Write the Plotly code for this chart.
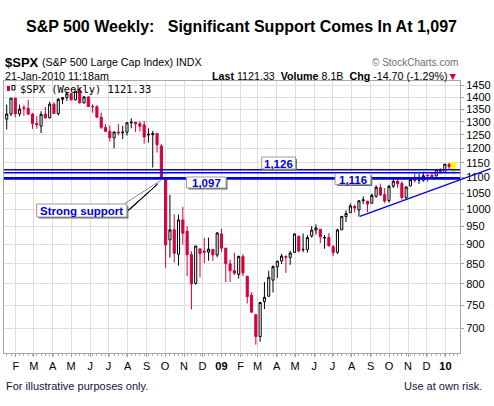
import plotly.graph_objects as go
import pandas as pd

# ---------------- data (weekly S&P 500 candles) ----------------
first_week = "2008-01-21"
opens = [
    1310.4, 1330.7,
    1395.4, 1331.1, 1355.9, 1353.1,
    1330.5, 1293.2, 1283.2, 1330.3, 1315.9,
    1370.2, 1332.2, 1390.3, 1397.8,
    1413.9, 1388.3, 1425.3, 1375.9,
    1400.1, 1360.8, 1360.0, 1317.9, 1278.1,
    1262.9, 1239.5, 1260.5, 1257.8,
    1260.3, 1296.3, 1298.1, 1292.2,
    1287.8, 1249.5, 1250.9, 1255.4, 1209.1,
    1097.6, 912.8, 941.0, 874.3,
    968.7, 936.8, 873.2, 801.2,
    888.6, 882.7, 880.0, 887.2, 872.4,
    929.2, 890.4, 849.6, 832.5,
    823.1, 868.2, 818.6, 773.3,
    729.6, 683.4, 758.8, 771.0, 809.1,
    842.3, 856.9, 868.3, 866.2,
    879.2, 923.0, 886.1, 887.0,
    923.3, 940.1, 942.5, 918.1, 919.9,
    894.3, 879.6, 940.6, 978.6,
    990.2, 1008.9, 998.2, 1026.6, 1025.2,
    1018.7, 1040.1, 1067.1, 1045.0,
    1026.9, 1072.0, 1088.4, 1080.4,
    1036.2, 1072.5, 1094.1, 1091.5, 1091.1,
    1108.1, 1107.8, 1105.0, 1127.5,
    1116.6, 1145.0, 1136.0,
]
highs = [
    1368.6, 1396.0,
    1395.4, 1368.4, 1367.9, 1388.3,
    1335.1, 1321.7, 1341.5, 1359.7, 1380.9,
    1378.0, 1395.9, 1399.9, 1422.7,
    1415.5, 1425.8, 1440.2, 1404.0,
    1404.1, 1370.6, 1366.6, 1335.6, 1290.3,
    1285.7, 1262.3, 1291.2, 1284.4,
    1297.9, 1313.2, 1300.2, 1303.0,
    1303.0, 1274.4, 1265.1, 1255.4, 1216.2,
    1098.5, 1044.3, 985.4, 984.4,
    1007.5, 951.2, 882.3, 896.2,
    888.6, 918.6, 918.9, 887.4, 934.7,
    943.9, 890.4, 860.0, 877.9,
    870.8, 875.0, 818.6, 780.1,
    729.6, 758.3, 804.5, 832.0, 845.6,
    856.6, 875.6, 871.8, 883.0,
    930.2, 923.0, 930.2, 926.0,
    951.0, 956.2, 942.5, 926.0, 931.9,
    898.7, 943.9, 979.8, 996.7,
    1018.0, 1014.1, 1027.6, 1039.5, 1025.2,
    1048.2, 1074.8, 1080.2, 1065.4,
    1076.0, 1096.6, 1101.4, 1087.9,
    1071.5, 1097.8, 1113.7, 1112.4, 1119.1,
    1110.7, 1117.7, 1128.0, 1130.4,
    1145.4, 1149.7, 1150.5,
]
lows = [
    1270.0, 1322.0,
    1316.8, 1321.0, 1324.0, 1325.6,
    1272.6, 1273.4, 1257.0, 1312.8, 1312.3,
    1331.6, 1324.4, 1370.3, 1384.1,
    1386.0, 1386.2, 1373.1, 1373.1,
    1359.9, 1335.7, 1317.2, 1272.0, 1260.7,
    1225.4, 1200.4, 1248.6, 1234.4,
    1247.5, 1274.6, 1261.0, 1262.6,
    1217.2, 1221.9, 1133.5, 1185.5, 1098.1,
    839.8, 865.8, 852.9, 845.3,
    899.7, 818.7, 741.0, 798.5,
    815.7, 851.4, 857.7, 857.1, 866.5,
    880.0, 804.5, 804.5, 821.7,
    812.9, 818.4, 754.3, 734.5,
    666.8, 672.9, 742.0, 771.0, 779.8,
    814.5, 848.9, 826.8, 847.1,
    879.2, 878.9, 879.6, 878.9,
    919.1, 927.4, 903.8, 888.9, 896.4,
    869.3, 875.3, 940.6, 963.0,
    990.2, 990.6, 978.5, 1016.2, 992.0,
    1017.4, 1035.0, 1041.2, 1019.0,
    1020.4, 1066.4, 1066.5, 1029.4,
    1029.4, 1072.5, 1083.8, 1079.4, 1086.3,
    1085.9, 1095.7, 1105.0, 1114.8,
    1116.6, 1127.7, 1118.0,
]
closes = [
    1330.6, 1395.4,
    1331.3, 1350.0, 1353.1, 1330.6,
    1293.4, 1288.1, 1329.5, 1315.2, 1370.4,
    1332.8, 1390.3, 1397.8, 1413.9,
    1388.3, 1425.4, 1375.9, 1400.4,
    1360.7, 1360.0, 1317.9, 1278.4, 1262.9,
    1239.5, 1260.7, 1257.8, 1260.3,
    1296.3, 1298.2, 1292.2, 1282.8,
    1242.3, 1251.7, 1255.1, 1213.3, 1099.2,
    899.2, 940.6, 876.8, 968.8,
    931.0, 873.3, 800.0, 896.2,
    876.1, 879.7, 887.9, 872.8, 931.8,
    890.4, 850.1, 832.0, 825.9,
    868.6, 826.8, 770.1, 735.1,
    683.4, 756.6, 768.5, 815.9, 842.5,
    856.6, 869.6, 866.2, 877.5,
    929.2, 882.9, 887.0, 919.1,
    940.1, 946.2, 921.2, 918.9, 896.4,
    879.1, 940.4, 979.3, 987.5,
    1010.5, 1004.1, 1026.1, 1028.9, 1016.4,
    1042.7, 1068.3, 1044.4, 1025.2,
    1071.5, 1087.7, 1079.6, 1036.2,
    1069.3, 1093.5, 1091.4, 1091.5, 1106.0,
    1106.4, 1102.5, 1126.5, 1115.1,
    1145.0, 1136.0, 1121.3,
]

month_labels = ["F", "M", "A", "M", "J", "J", "A", "S", "O", "N", "D", "<b>09</b>",
                "F", "M", "A", "M", "J", "J", "A", "S", "O", "N", "D", "<b>10</b>"]
y_ticks = [700, 750, 800, 850, 900, 950, 1000, 1050, 1100, 1150,
           1200, 1250, 1300, 1350, 1400, 1450]
support_levels = [1126, 1116, 1097]
support_labels = ["1,126", "1,116", "1,097"]

# ---------------- derived positions ----------------
week_starts = pd.date_range(first_week, periods=len(closes), freq="7D")
bar_x = week_starts - pd.Timedelta(days=4)   # StockCharts draws weekly bars just before the week start
month_ticks = pd.date_range("2008-02-01", "2010-01-01", freq="MS")
x_range = [pd.Timestamp("2008-01-12 14:00"), pd.Timestamp("2010-01-24 17:00")]
y_range = [2.81324, 3.16696]

RED = "#d4003b"
BLUE = "#0000e0"
W, H = 494, 406
L, R, T, B = 3, 463, 81, 353


def px(x):
    return (x - L) / (R - L)


def py(y):
    return (B - y) / (B - T)


fig = go.Figure()

# yellow highlight behind latest bar
hx0 = bar_x[-1] - pd.Timedelta(days=4.5)
hx1 = bar_x[-1] + pd.Timedelta(days=4.5)
hy0, hy1 = lows[-1] * 1.001, highs[-1] * 1.002
fig.add_trace(go.Scatter(x=[hx0, hx1, hx1, hx0, hx0], y=[hy0, hy0, hy1, hy1, hy0],
                         fill="toself", fillcolor="#ffff00", line=dict(width=0),
                         mode="lines", hoverinfo="skip"))

fig.add_trace(go.Candlestick(
    x=bar_x, open=opens, high=highs, low=lows, close=closes,
    increasing=dict(line=dict(color="black", width=1), fillcolor="white"),
    decreasing=dict(line=dict(color=RED, width=1), fillcolor=RED),
    whiskerwidth=0, hoverinfo="skip"))

for lvl, wd in zip(support_levels, [1.3, 1.3, 2.8]):
    fig.add_trace(go.Scatter(x=x_range, y=[lvl, lvl], mode="lines",
                             line=dict(color=BLUE, width=wd), hoverinfo="skip"))

shapes = []
# darker year gridlines
for d in ["2009-01-01", "2010-01-01"]:
    shapes.append(dict(type="line", xref="x", yref="paper", x0=d, x1=d, y0=0, y1=1,
                       line=dict(color="#b4b4b4", width=1), layer="below"))
# rising trend line
shapes.append(dict(type="line", xref="paper", yref="paper",
                   x0=px(362), y0=py(216.3), x1=px(494), y1=py(168.6),
                   line=dict(color=BLUE, width=1.3)))
# "Strong support" arrow
shapes.append(dict(type="line", xref="paper", yref="paper",
                   x0=px(121), y0=py(206), x1=px(161), y1=py(180.5),
                   line=dict(color="#8c8c8c", width=1)))
shapes.append(dict(type="path", xref="paper", yref="paper",
                   path="M {} {} L {} {} L {} {} Z".format(px(125), py(213), px(131), py(208.5),
                                                           px(158), py(184)),
                   fillcolor="black", line=dict(color="black", width=1)))

ann = []


def text(x, y, s, size=11, color="black", anchor="left", family="Arial", yanchor="middle"):
    ann.append(dict(x=px(x), y=py(y), xref="paper", yref="paper", text=s, showarrow=False,
                    xanchor=anchor, yanchor=yanchor,
                    font=dict(family=family, size=size, color=color)))


text(23, 26, "<b>S&P 500 Weekly:\u00a0\u00a0\u00a0Significant Support Comes In At 1,097</b>", size=16)
text(2, 62, "<b>$SPX</b>", size=13)
text(39, 62, "(S&P 500 Large Cap Index) INDX", size=10.7)
text(463, 62, "© StockCharts.com", size=10, color="#707070", anchor="right")
text(2, 76, "21-Jan-2010 11:18am", size=10.7)
text(463, 76, "<b>Last</b> 1121.33\u00a0\u00a0<b>Volume</b> 8.1B\u00a0\u00a0<b>Chg</b> -14.70 (-1.29%)"
              "<span style='color:" + RED + "'>▼</span>", size=10.7, anchor="right")
text(17, 88.5, "$SPX (Weekly) 1121.33", size=10.4, family="DejaVu Sans Mono")
text(3, 386, "For illustrative purposes only.", size=11, color="#14143a")
text(487, 386, "Use at own risk.", size=11, color="#14143a", anchor="right")

# tiny candle icon of the legend
shapes.append(dict(type="rect", xref="paper", yref="paper", x0=px(6), x1=px(9), y0=py(91), y1=py(86),
                   fillcolor=RED, line=dict(width=0)))
shapes.append(dict(type="rect", xref="paper", yref="paper", x0=px(11), x1=px(14), y0=py(90), y1=py(85.5),
                   fillcolor="white", line=dict(color="black", width=1)))

# level boxes (centre x, centre y, width, height in pixels) with drop shadow
boxes = [(280, 163, 34, 12, support_labels[0]), (355, 179, 36, 11, support_labels[1]),
         (207, 182.5, 40, 11, support_labels[2]), (81.5, 210.5, 91, 13, "Strong support")]
for cx, cy, bw, bh, s in boxes:
    shapes.append(dict(type="rect", xref="paper", yref="paper",
                       x0=px(cx - bw / 2 + 2), x1=px(cx + bw / 2 + 1.5),
                       y0=py(cy + bh / 2 + 1.5), y1=py(cy - bh / 2 + 2),
                       fillcolor="#6a6a6a", line=dict(width=0)))
    shapes.append(dict(type="rect", xref="paper", yref="paper",
                       x0=px(cx - bw / 2), x1=px(cx + bw / 2),
                       y0=py(cy + bh / 2), y1=py(cy - bh / 2),
                       fillcolor="white", line=dict(color="#9a9a9a", width=1)))
    ann.append(dict(x=px(cx), y=py(cy + 0.5), xref="paper", yref="paper", showarrow=False,
                    xanchor="center", yanchor="middle",
                    text="<b>" + s + "</b>", font=dict(family="Arial", size=11.5, color=BLUE)))

fig.update_layout(
    width=W, height=H, margin=dict(l=L, r=W - R, t=T, b=H - B),
    paper_bgcolor="white", plot_bgcolor="white", showlegend=False,
    shapes=shapes, annotations=ann,
    xaxis=dict(type="date", range=x_range, tickvals=month_ticks, ticktext=month_labels,
               showgrid=True, gridcolor="#dedede", gridwidth=1,
               ticks="outside", ticklen=3, tickcolor="#a0a0a0",
               minor=dict(dtick=7 * 86400000, tick0="2008-01-17", ticklen=2,
                          tickcolor="#b0b0b0", ticks="outside", showgrid=False),
               showline=True, linecolor="#a8a8a8", mirror=True,
               tickfont=dict(family="Arial", size=11, color="black"),
               rangeslider=dict(visible=False), fixedrange=True),
    yaxis=dict(type="log", range=y_range, side="right", tickvals=y_ticks,
               ticktext=[str(v) for v in y_ticks],
               showgrid=True, gridcolor="#dedede", gridwidth=1,
               ticks="outside", ticklen=3, tickcolor="#a0a0a0",
               showline=True, linecolor="#a8a8a8", mirror=True,
               tickfont=dict(family="Arial", size=11, color="black"), fixedrange=True),
)

fig.write_html("out.html")
